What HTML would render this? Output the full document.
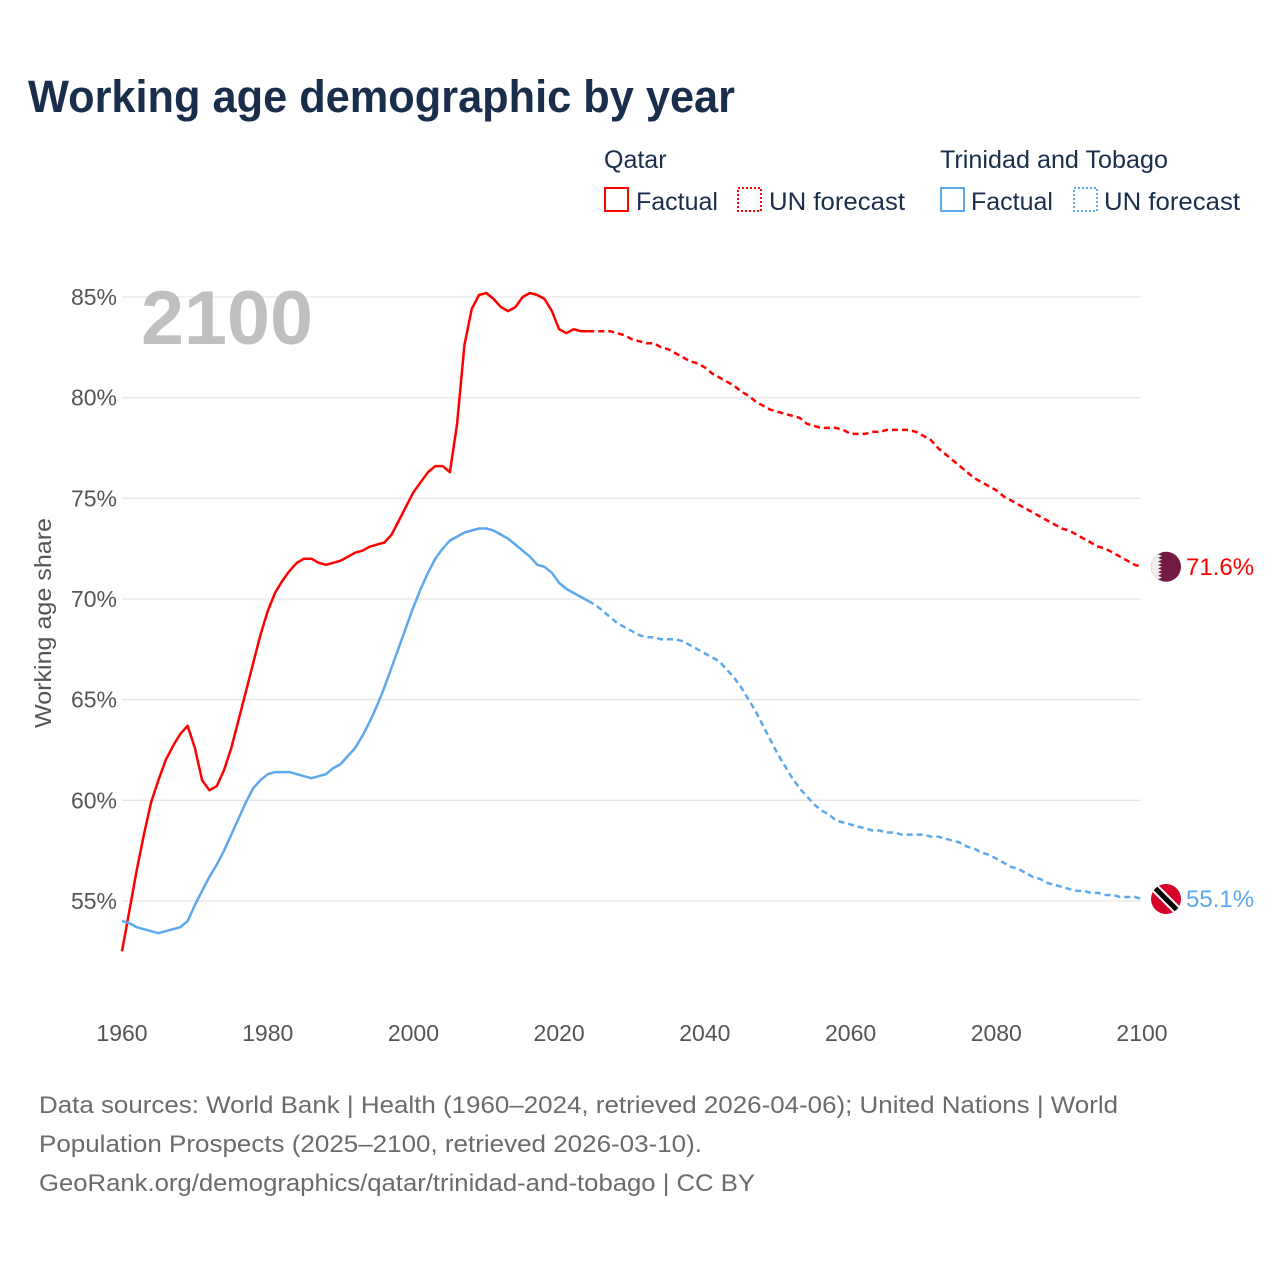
<!DOCTYPE html>
<html><head><meta charset="utf-8">
<style>
html,body{margin:0;padding:0;background:#fff;}
body{width:1280px;height:1280px;overflow:hidden;font-family:"Liberation Sans",sans-serif;}
svg text{font-family:"Liberation Sans",sans-serif;}
</style></head>
<body>
<svg id="chart" width="1280" height="1280" viewBox="0 0 1280 1280" xmlns="http://www.w3.org/2000/svg">
  <text x="28" y="112" font-size="45" font-weight="bold" fill="#1a2e4c" textLength="707" lengthAdjust="spacingAndGlyphs">Working age demographic by year</text>
  <g font-size="25" fill="#1a2e4c">
    <text x="604" y="168">Qatar</text>
    <rect x="605" y="188" width="23" height="23" fill="none" stroke="#ff0000" stroke-width="2"/>
    <text x="636" y="210">Factual</text>
    <rect x="738" y="188" width="23" height="23" fill="none" stroke="#ff0000" stroke-width="2" stroke-dasharray="2,2"/>
    <text x="769" y="210" textLength="136" lengthAdjust="spacingAndGlyphs">UN forecast</text>
    <text x="940" y="168" textLength="228" lengthAdjust="spacingAndGlyphs">Trinidad and Tobago</text>
    <rect x="941" y="188" width="23" height="23" fill="none" stroke="#5ea8ec" stroke-width="2"/>
    <text x="971" y="210">Factual</text>
    <rect x="1074" y="188" width="23" height="23" fill="none" stroke="#5ea8ec" stroke-width="2" stroke-dasharray="2,2"/>
    <text x="1104" y="210" textLength="136" lengthAdjust="spacingAndGlyphs">UN forecast</text>
  </g>
  <g id="grid"></g>
  <g id="yticks"></g>
  <g id="xticks"></g>
  <text x="141" y="344" font-size="76" font-weight="bold" fill="#c0c0c0" textLength="172" lengthAdjust="spacingAndGlyphs">2100</text>
  <text transform="translate(51,623) rotate(-90)" text-anchor="middle" font-size="23" fill="#555" textLength="210" lengthAdjust="spacingAndGlyphs">Working age share</text>
  <g id="series"></g>
  <g id="ends"></g>
  <g font-size="24" fill="#6b6b6b">
    <text x="39" y="1113" textLength="1079" lengthAdjust="spacingAndGlyphs">Data sources: World Bank | Health (1960–2024, retrieved 2026-04-06); United Nations | World</text>
    <text x="39" y="1152" textLength="663" lengthAdjust="spacingAndGlyphs">Population Prospects (2025–2100, retrieved 2026-03-10).</text>
    <text x="39" y="1191" textLength="716" lengthAdjust="spacingAndGlyphs">GeoRank.org/demographics/qatar/trinidad-and-tobago | CC BY</text>
  </g>
</svg>
<script>
const qatarFactual = [52.5,54.5,56.5,58.3,59.9,61.0,62.0,62.7,63.3,63.7,62.6,61.0,60.5,60.7,61.5,62.6,64.0,65.4,66.8,68.2,69.4,70.3,70.9,71.4,71.8,72.0,72.0,71.8,71.7,71.8,71.9,72.1,72.3,72.4,72.6,72.7,72.8,73.2,73.9,74.6,75.3,75.8,76.3,76.6,76.6,76.3,78.7,82.6,84.4,85.1,85.2,84.9,84.5,84.3,84.5,85.0,85.2,85.1,84.9,84.3,83.4,83.2,83.4,83.3,83.3];
const qatarForecast = [83.3,83.3,83.3,83.2,83.1,82.9,82.8,82.7,82.7,82.5,82.4,82.2,82.0,81.8,81.7,81.5,81.2,81.0,80.8,80.6,80.3,80.1,79.8,79.6,79.4,79.3,79.2,79.1,79.0,78.7,78.6,78.5,78.5,78.5,78.4,78.2,78.2,78.2,78.3,78.3,78.4,78.4,78.4,78.4,78.3,78.1,77.9,77.5,77.2,76.9,76.6,76.3,76.0,75.8,75.6,75.4,75.1,74.9,74.7,74.5,74.3,74.1,73.9,73.7,73.5,73.4,73.2,73.0,72.8,72.6,72.5,72.3,72.1,71.9,71.7,71.6];
const ttFactual = [54.0,53.9,53.7,53.6,53.5,53.4,53.5,53.6,53.7,54.0,54.8,55.5,56.2,56.8,57.5,58.3,59.1,59.9,60.6,61.0,61.3,61.4,61.4,61.4,61.3,61.2,61.1,61.2,61.3,61.6,61.8,62.2,62.6,63.2,63.9,64.7,65.6,66.6,67.6,68.6,69.6,70.5,71.3,72.0,72.5,72.9,73.1,73.3,73.4,73.5,73.5,73.4,73.2,73.0,72.7,72.4,72.1,71.7,71.6,71.3,70.8,70.5,70.3,70.1,69.9];
const ttForecast = [69.7,69.4,69.1,68.8,68.6,68.4,68.2,68.1,68.1,68.0,68.0,68.0,67.9,67.7,67.5,67.3,67.1,66.9,66.5,66.1,65.6,65.0,64.4,63.7,63.0,62.3,61.7,61.1,60.6,60.2,59.8,59.5,59.3,59.0,58.9,58.8,58.7,58.6,58.5,58.5,58.4,58.4,58.3,58.3,58.3,58.3,58.2,58.2,58.1,58.0,57.9,57.7,57.6,57.4,57.3,57.1,56.9,56.7,56.6,56.4,56.2,56.1,55.9,55.8,55.7,55.6,55.5,55.5,55.4,55.4,55.3,55.3,55.2,55.2,55.2,55.1];
const factualStartYear = 1960;
const forecastStartYear = 2025;
const yTicks = [55,60,65,70,75,80,85];
const xTicks = [1960,1980,2000,2020,2040,2060,2080,2100];

const NS = "http://www.w3.org/2000/svg";
function xs(yr){ return 122 + (yr-1960)*(1142-122)/140; }
function ys(v){ return 297 + (85-v)*(901-297)/30; }
function mk(tag, attrs, parent){ const e=document.createElementNS(NS,tag); for(const k in attrs) e.setAttribute(k,attrs[k]); parent.appendChild(e); return e; }

const grid=document.getElementById('grid'), yt=document.getElementById('yticks'), xt=document.getElementById('xticks');
yTicks.forEach(v=>{
  const l=mk('line',{x1:122,x2:1141,y1:ys(v),y2:ys(v),stroke:'#e6e6e6','stroke-width':1.3},grid);
  
  
  const t=mk('text',{x:117,y:ys(v)+8,'text-anchor':'end','font-size':23,fill:'#555'},yt);
  t.textContent=v+'%';
  
  
});
xTicks.forEach(yr=>{
  const t=mk('text',{x:xs(yr),y:1041,'text-anchor':'middle','font-size':23,fill:'#555'},xt);
  t.textContent=yr;
  
  
});

const sg=document.getElementById('series');
function line(arr,start,color,dash,name,prefix){
  let d=prefix||'';
  arr.forEach((v,i)=>{ d+=(d?'L':'M')+xs(start+i).toFixed(1)+','+ys(v).toFixed(1); });
  const p=mk('path',{d:d,fill:'none',stroke:color,'stroke-width':2.5,'stroke-linejoin':'round'},sg);
  if(dash) p.setAttribute('stroke-dasharray',dash);
  
  
}
line(qatarFactual,factualStartYear,'#ff0000',null,'qatar-factual-line');
line(ttFactual,factualStartYear,'#5ea8ec',null,'tt-factual-line');
line(qatarForecast,forecastStartYear,'#ff0000','6,4','qatar-forecast-line','M'+xs(2024).toFixed(1)+','+ys(qatarFactual[qatarFactual.length-1]).toFixed(1));
line(ttForecast,forecastStartYear,'#5ea8ec','6,4','tt-forecast-line','M'+xs(2024).toFixed(1)+','+ys(ttFactual[ttFactual.length-1]).toFixed(1));

const ends=document.getElementById('ends');
const qEnd=qatarForecast[qatarForecast.length-1], tEnd=ttForecast[ttForecast.length-1];
const qg=mk('g',{},ends);


const cy1=ys(qEnd);
mk('defs',{},qg).innerHTML='<clipPath id="cq"><circle cx="1166" cy="'+cy1+'" r="15"/></clipPath><clipPath id="ct"><circle cx="1166" cy="'+ys(tEnd)+'" r="15"/></clipPath>';
const qin=mk('g',{'clip-path':'url(#cq)'},qg);
mk('rect',{x:1150,y:cy1-16,width:32,height:32,fill:'#741b45'},qin);
let zz='M1150,'+(cy1-16);
for(let i=0;i<9;i++){ const y0=cy1-16+i*32/9; zz+=' L1158,'+y0.toFixed(1)+' L1162,'+(y0+32/18).toFixed(1); }
zz+=' L1158,'+(cy1+16)+' L1150,'+(cy1+16)+'Z';
mk('path',{d:zz,fill:'#eeeeee'},qin);
const ql=mk('text',{x:1186,y:cy1+8,'font-size':24,fill:'#ff0000'},ends);
ql.textContent=qEnd.toFixed(1)+'%';


const cy2=ys(tEnd);
const tg=mk('g',{'clip-path':'url(#ct)'},ends);


mk('rect',{x:1150,y:cy2-16,width:32,height:32,fill:'#d6002a'},tg);
mk('line',{x1:1152,y1:cy2-14,x2:1180,y2:cy2+14,stroke:'#fff','stroke-width':9},tg);
mk('line',{x1:1152,y1:cy2-14,x2:1180,y2:cy2+14,stroke:'#000','stroke-width':5},tg);
const tl=mk('text',{x:1186,y:cy2+8,'font-size':24,fill:'#5ea8ec'},ends);
tl.textContent=tEnd.toFixed(1)+'%';


</script>
</body></html>
